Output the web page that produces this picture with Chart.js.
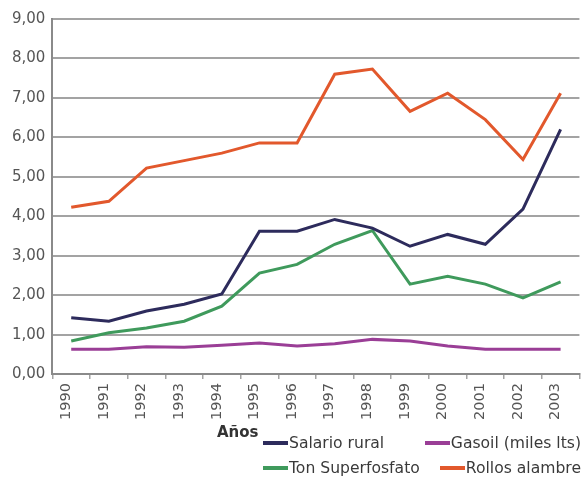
<!DOCTYPE html>
<html>
<head>
<meta charset="utf-8">
<script src="https://cdn.jsdelivr.net/npm/chart.js@4/dist/chart.umd.min.js"></script>
<style>
  html, body { margin: 0; padding: 0; background: #fff; }
  #wrap { position: relative; width: 582px; height: 482px; }
  #chart { display: block; }
  #xTitle {
    position: absolute; left: 217px; top: 423px;
    font: bold 15px "DejaVu Sans", sans-serif; color: #333;
  }
  .legendRow {
    position: absolute; left: 263px; width: 318px;
    display: flex; justify-content: space-between; align-items: center;
    font: 15.6px "DejaVu Sans", sans-serif; color: #3a3a3a; white-space: nowrap;
  }
  .legendItem { display: flex; align-items: center; }
  .legendItem span.mark { display: inline-block; width: 25px; height: 4px; margin-right: 1px; }
</style>
</head>
<body>
<div id="wrap">
  <canvas id="chart" width="582" height="482"></canvas>
  <div id="xTitle">Años</div>
  <div id="legend"></div>
</div>
<script>
// Datos
const years = ['1990', '1991', '1992', '1993', '1994', '1995', '1996', '1997', '1998', '1999', '2000', '2001', '2002', '2003'];
const salarioRural = [1.43, 1.34, 1.60, 1.77, 2.03, 3.62, 3.62, 3.92, 3.70, 3.24, 3.54, 3.29, 4.18, 6.20];
const gasoil = [0.63, 0.63, 0.69, 0.68, 0.73, 0.79, 0.71, 0.77, 0.88, 0.84, 0.71, 0.63, 0.63, 0.63];
const tonSuperfosfato = [0.84, 1.05, 1.17, 1.34, 1.72, 2.56, 2.78, 3.29, 3.64, 2.28, 2.48, 2.28, 1.93, 2.34];
const rollosAlambre = [4.23, 4.38, 5.22, 5.41, 5.60, 5.86, 5.86, 7.60, 7.73, 6.66, 7.12, 6.45, 5.44, 7.12];
const yTicks = [0, 1, 2, 3, 4, 5, 6, 7, 8, 9];

const series = [
    { label: 'Salario rural', data: salarioRural, color: '#2d2b5c' },
    { label: 'Gasoil (miles lts)', data: gasoil, color: '#9a3e96' },
    { label: 'Ton Superfosfato', data: tonSuperfosfato, color: '#3f9a5c' },
    { label: 'Rollos alambre', data: rollosAlambre, color: '#e2582c' }
];

const gridColor = '#a3a3a3';
const tickFont = { family: 'DejaVu Sans', size: 15 };

new Chart(document.getElementById('chart'), {
    type: 'line',
    data: {
        labels: years,
        datasets: series.map(s => ({
            label: s.label,
            data: s.data,
            borderColor: s.color,
            backgroundColor: s.color,
            borderWidth: 3,
            pointRadius: 0,
            tension: 0
        }))
    },
    options: {
        responsive: false,
        animation: false,
        layout: { padding: { top: 19, right: 0, bottom: 58, left: 5 } },
        plugins: {
            legend: { display: false },
            tooltip: { enabled: false }
        },
        scales: {
            x: {
                type: 'category',
                offset: true,
                grid: { offset: true, drawOnChartArea: false, drawTicks: true, tickLength: 5, color: gridColor, lineWidth: 1.5 },
                border: { color: '#8a8a8a', width: 2 },
                ticks: {
                    color: '#555', font: { family: 'DejaVu Sans', size: 14.5 },
                    minRotation: 90, maxRotation: 90, autoSkip: false, labelOffset: -5, padding: 4
                }
            },
            y: {
                min: 0, max: 9,
                afterBuildTicks: axis => { axis.ticks = yTicks.map(v => ({ value: v })); },
                grid: { color: gridColor, lineWidth: 2, drawTicks: false },
                border: { color: '#8a8a8a', width: 2 },
                ticks: {
                    color: '#555', font: tickFont, padding: 7,
                    callback: v => v.toFixed(2).replace('.', ',')
                }
            }
        }
    }
});

// Leyenda HTML en dos filas
const legend = document.getElementById('legend');
const rows = [[series[0], series[1]], [series[2], series[3]]];
const rowTops = [434, 459];
rows.forEach((row, r) => {
    const div = document.createElement('div');
    div.className = 'legendRow';
    div.style.top = rowTops[r] + 'px';
    row.forEach(s => {
        const item = document.createElement('div');
        item.className = 'legendItem';
        const mark = document.createElement('span');
        mark.className = 'mark';
        mark.style.background = s.color;
        item.appendChild(mark);
        item.appendChild(document.createTextNode(s.label));
        div.appendChild(item);
    });
    legend.appendChild(div);
});
</script>
</body>
</html>
